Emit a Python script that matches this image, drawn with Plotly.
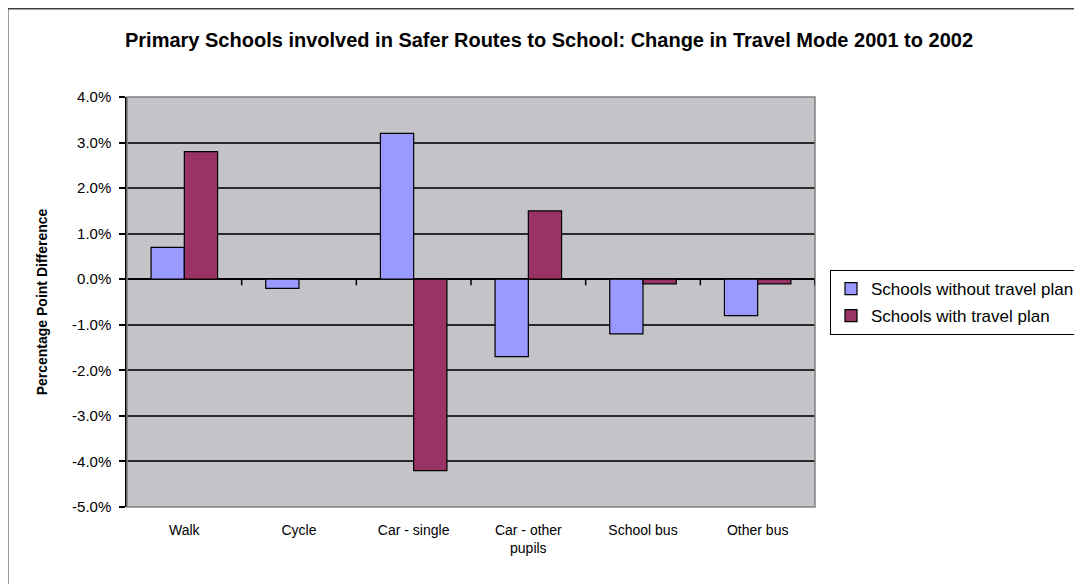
import plotly.graph_objects as go

categories = ["Walk", "Cycle", "Car - single", "Car - other<br>pupils", "School bus", "Other bus"]
without_plan = [0.007, -0.002, 0.032, -0.017, -0.012, -0.008]
with_plan = [0.028, 0.0, -0.042, 0.015, -0.001, -0.001]
y_ticks = [0.04, 0.03, 0.02, 0.01, 0.0, -0.01, -0.02, -0.03, -0.04, -0.05]
y_ticktext = [f"{v * 100:.1f}%" for v in y_ticks]

W, H = 1082, 584
L, R, T, B = 119, 275, 89, 85
PW, PH = W - L - R, H - T - B
FONT = "Arial, Liberation Sans, sans-serif"

def px_x(p):
    return (p - L) / PW

def px_y(p):
    return (H - B - p) / PH

fig = go.Figure()
fig.add_trace(go.Bar(
    x=list(range(len(categories))), y=without_plan, name="Schools without travel plan",
    marker=dict(color="#9999FF", line=dict(color="#000000", width=1.2)),
    legendgroup="a",
))
fig.add_trace(go.Bar(
    x=list(range(len(categories))), y=with_plan, name="Schools with travel plan",
    marker=dict(color="#993366", line=dict(color="#000000", width=1.2)),
    legendgroup="b",
))

shapes = []
shapes.append(dict(type="rect", xref="paper", yref="paper", x0=0, x1=1, y0=0, y1=1,
                   line=dict(color="#808080", width=1.5), layer="above"))
for i in range(len(categories)):
    shapes.append(dict(type="line", xref="x", yref="y", ysizemode="pixel", yanchor=0,
                       x0=i + 0.5, x1=i + 0.5, y0=0, y1=-6,
                       line=dict(color="#000000", width=1.5)))
shapes.append(dict(type="line", xref="paper", yref="paper",
                   x0=px_x(0), x1=px_x(W + 5), y0=px_y(0.5), y1=px_y(0.5),
                   line=dict(color="#404040", width=2)))
shapes.append(dict(type="line", xref="paper", yref="paper",
                   x0=px_x(-0.5), x1=px_x(-0.5), y0=px_y(0), y1=px_y(H + 5),
                   line=dict(color="#404040", width=2)))

fig.update_layout(
    width=W, height=H,
    margin=dict(l=L, r=R, t=T, b=B, autoexpand=False),
    paper_bgcolor="#FFFFFF",
    plot_bgcolor="#C4C3C7",
    barmode="group",
    bargap=0.42,
    bargroupgap=0,
    font=dict(family=FONT, color="#000000"),
    title=dict(
        text="<b>Primary Schools involved in Safer Routes to School: Change in Travel Mode 2001 to 2002</b>",
        x=px_x(541), xanchor="center", xref="paper",
        y=1 - 32 / H, yanchor="middle",
        font=dict(family=FONT, size=20, color="#000000"),
    ),
    showlegend=True,
    legend=dict(
        x=px_x(822), y=px_y(262), xanchor="left", yanchor="top",
        xref="paper", yref="paper",
        bgcolor="#FFFFFF", bordercolor="#000000", borderwidth=1,
        font=dict(family=FONT, size=17, color="#000000"),
        tracegroupgap=2,
        itemwidth=30,
    ),
    shapes=shapes,
)

fig.update_xaxes(
    range=[-0.5, len(categories) - 0.5],
    tickmode="array",
    tickvals=list(range(len(categories))),
    ticktext=categories,
    showgrid=False, zeroline=False, showline=False,
    ticks="",
    ticklabelstandoff=13,
    automargin=False,
    tickfont=dict(family=FONT, size=14, color="#000000"),
)
fig.update_yaxes(
    range=[-0.05, 0.04],
    tickmode="array",
    tickvals=y_ticks,
    ticktext=y_ticktext,
    showgrid=True, gridcolor="#2a2a2a", gridwidth=1.5,
    zeroline=True, zerolinecolor="#000000", zerolinewidth=2,
    showline=True, linecolor="#000000", linewidth=1.5,
    ticks="outside", ticklen=6, tickcolor="#000000", tickwidth=1.5,
    ticklabelstandoff=5,
    automargin=False,
    tickfont=dict(family=FONT, size=15, color="#000000"),
    title=dict(text="<b>Percentage Point Difference</b>",
               font=dict(family=FONT, size=14, color="#000000"), standoff=21),
)

fig.write_html("out.html")
